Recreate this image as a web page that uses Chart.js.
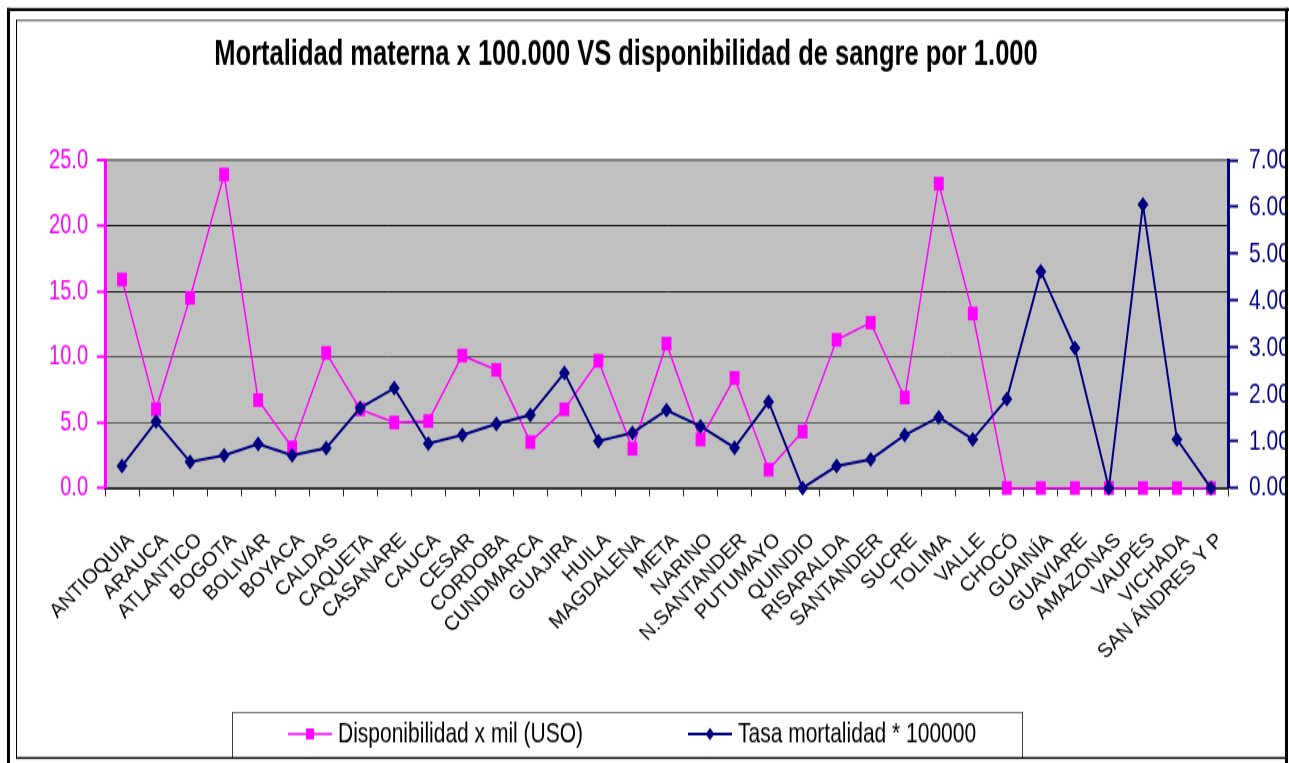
<!DOCTYPE html>
<html>
<head>
<meta charset="utf-8">
<script src="https://cdn.jsdelivr.net/npm/chart.js@4.4.1/dist/chart.umd.min.js"></script>
<style>
html, body { margin: 0; padding: 0; background: #fff; overflow: hidden; }
/* el grafico original viene estirado en vertical */
#wrap { position: absolute; left: 0; top: 0; width: 1289px; height: 553px; transform: scaleY(1.3797); transform-origin: 0 0; }
</style>
</head>
<body>
<div id="wrap"><canvas id="graph-sangre" width="1289" height="553"></canvas></div>
<script>
const $graphSangre = document.querySelector("#graph-sangre");

const departamentos = ["ANTIOQUIA","ARAUCA","ATLANTICO","BOGOTA","BOLIVAR","BOYACA","CALDAS","CAQUETA","CASANARE","CAUCA","CESAR","CORDOBA","CUNDMARCA","GUAJIRA","HUILA","MAGDALENA","META","NARINO","N.SANTANDER","PUTUMAYO","QUINDIO","RISARALDA","SANTANDER","SUCRE","TOLIMA","VALLE","CHOCÓ","GUAINÍA","GUAVIARE","AMAZONAS","VAUPÉS","VICHADA","SAN ÁNDRES Y P"];

const disponibilidad = [15.9, 6.0, 14.5, 23.9, 6.7, 3.1, 10.3, 6.0, 5.0, 5.1, 10.1, 9.0, 3.5, 6.0, 9.7, 3.0, 11.0, 3.7, 8.4, 1.4, 4.3, 11.3, 12.6, 6.9, 23.2, 13.3, 0, 0, 0, 0, 0, 0, 0];

const tasaMortalidad = [0.47, 1.42, 0.56, 0.70, 0.94, 0.70, 0.85, 1.71, 2.13, 0.95, 1.13, 1.37, 1.56, 2.46, 1.00, 1.18, 1.66, 1.32, 0.86, 1.84, 0.00, 0.47, 0.61, 1.13, 1.51, 1.04, 1.90, 4.62, 2.99, 0.00, 6.05, 1.04, 0.00];

const ticksIzq = [0, 5, 10, 15, 20, 25];
const ticksDer = [0, 1, 2, 3, 4, 5, 6, 7];

const SY = 763 / 553; // estiramiento vertical
const py = v => v / SY; // y de la pagina -> y del lienzo

Chart.defaults.font.family = '"Liberation Sans", Arial, sans-serif';
Chart.defaults.color = '#000';

// fondo gris del area de trazado
const fondo = {
    id: 'fondo',
    beforeDraw(chart) {
        const {ctx, chartArea: a} = chart;
        ctx.save();
        ctx.fillStyle = '#fff';
        ctx.fillRect(0, 0, chart.width, chart.height);
        ctx.fillStyle = '#C0C0C0';
        ctx.fillRect(a.left, a.top, a.right - a.left, a.bottom - a.top);
        ctx.restore();
    },
    afterLayout(chart) {
        // el titulo del original no queda centrado en el lienzo
        if (chart.titleBlock) {
            chart.titleBlock.left -= 42;
            chart.titleBlock.right -= 42;
        }
    }
};

// etiquetas del eje x a 45 grados, sin el estiramiento vertical
const etiquetas = {
    id: 'etiquetas',
    afterDraw(chart) {
        const ctx = chart.ctx;
        const xs = chart.scales.x;
        ctx.save();
        ctx.fillStyle = '#000';
        ctx.font = '20px "Liberation Sans", Arial, sans-serif';
        ctx.textAlign = 'right';
        ctx.textBaseline = 'top';
        chart.data.labels.forEach((lab, i) => {
            ctx.save();
            ctx.translate(xs.getPixelForTick(i) + 2, xs.top + py(42));
            ctx.scale(1, 1 / SY);
            ctx.rotate(-Math.PI / 4);
            ctx.fillText(lab, 0, 0);
            ctx.restore();
        });
        ctx.restore();
    }
};

// leyenda y marcos
const marco = {
    id: 'marco',
    afterDraw(chart) {
        const ctx = chart.ctx;
        const barra = (x0, y0, x1, y1) => ctx.fillRect(x0, py(y0), x1 - x0, py(y1) - py(y0));
        ctx.save();

        const items = [{cx: 310, tx: 338}, {cx: 710, tx: 738}];
        const yy = py(734);
        chart.data.datasets.forEach((ds, i) => {
            const p = items[i];
            ctx.strokeStyle = ds.borderColor;
            ctx.lineWidth = ds.borderWidth;
            ctx.beginPath();
            ctx.moveTo(p.cx - 22, yy);
            ctx.lineTo(p.cx + 22, yy);
            ctx.stroke();
            ctx.fillStyle = ds.pointBackgroundColor;
            Chart.helpers.drawPoint(ctx, {pointStyle: ds.pointStyle, radius: ds.pointRadius * 0.8, rotation: 0, borderWidth: 0}, p.cx, yy);
            ctx.fillStyle = '#000';
            ctx.font = '21px "Liberation Sans", Arial, sans-serif';
            ctx.textAlign = 'left';
            ctx.textBaseline = 'middle';
            ctx.fillText(ds.label, p.tx, yy);
        });

        ctx.fillStyle = '#fff';
        ctx.fillRect(1287, 0, 2, chart.height);

        ctx.fillStyle = '#404040';
        barra(232, 712, 233, 758);
        barra(232, 712, 1023, 713);
        barra(1022, 712, 1023, 758);

        ctx.fillStyle = '#000';
        barra(7, 8, 10, 763);
        barra(7, 8, 1289, 11);
        barra(1285, 8, 1288, 763);
        barra(16, 20, 17, 759);
        barra(16, 20, 1286, 21);
        barra(16, 757, 1286, 759);
        ctx.restore();
    }
};

const datosDisponibilidad = {
    label: "Disponibilidad x mil (USO)",
    data: disponibilidad,
    yAxisID: 'yIzq',
    borderColor: '#FF00FF',
    backgroundColor: '#FF00FF',
    pointBackgroundColor: '#FF00FF',
    pointBorderWidth: 0,
    borderWidth: 1.5,
    pointStyle: 'rect',
    pointRadius: 7,
    order: 1,
    clip: false,
};

const datosTasa = {
    label: "Tasa mortalidad * 100000",
    data: tasaMortalidad,
    yAxisID: 'yDer',
    borderColor: '#000080',
    backgroundColor: '#000080',
    pointBackgroundColor: '#000080',
    pointBorderWidth: 0,
    borderWidth: 2,
    pointStyle: 'rectRot',
    pointRadius: 5.5,
    order: 0,
    clip: false,
};

new Chart($graphSangre, {
    type: 'line',
    data: {
        labels: departamentos,
        datasets: [datosDisponibilidad, datosTasa]
    },
    plugins: [fondo, etiquetas, marco],
    options: {
        responsive: false,
        animation: false,
        layout: { padding: { left: 49, right: 2, top: 0, bottom: 64.3 } },
        elements: { line: { tension: 0 } },
        plugins: {
            legend: { display: false },
            tooltip: { enabled: false },
            title: {
                display: true,
                text: "Mortalidad materna x 100.000 VS disponibilidad de sangre por 1.000",
                color: '#000',
                font: { size: 25.5, weight: 'bold' },
                padding: { top: 24.6, bottom: 60.8 }
            }
        },
        scales: {
            x: {
                offset: true,
                afterFit: s => { s.height = 135; },
                border: { color: '#333', width: 2 },
                grid: { offset: true, drawOnChartArea: false, tickLength: 6, tickColor: '#222', tickWidth: 1 },
                ticks: { display: false, autoSkip: false }
            },
            yIzq: {
                position: 'left',
                min: 0,
                max: 25,
                afterFit: s => { s.width = 56; },
                afterBuildTicks: s => { s.ticks = ticksIzq.map(v => ({value: v})); },
                border: { color: '#FF00FF', width: 3 },
                grid: {
                    color: c => {
                        const v = c.tick.value;
                        if (v === 25) return '#808080';
                        if (v === 0) return 'rgba(0,0,0,0)';
                        return v >= 15 ? '#111' : '#555';
                    },
                    lineWidth: c => c.tick.value === 25 ? 2 : 1,
                    tickColor: '#FF00FF',
                    tickWidth: 2,
                    tickLength: 8
                },
                ticks: { color: '#FF00FF', padding: 9, font: { size: 20 }, callback: v => v.toFixed(1) }
            },
            yDer: {
                position: 'right',
                min: 0,
                max: 7,
                afterFit: s => { s.width = 59; },
                afterBuildTicks: s => { s.ticks = ticksDer.map(v => ({value: v})); },
                border: { color: '#000080', width: 3 },
                grid: { drawOnChartArea: false, tickColor: '#000080', tickWidth: 2, tickLength: 10 },
                ticks: { color: '#000080', padding: 11, font: { size: 21 }, callback: v => v.toFixed(2) }
            }
        }
    }
});
</script>
</body>
</html>
